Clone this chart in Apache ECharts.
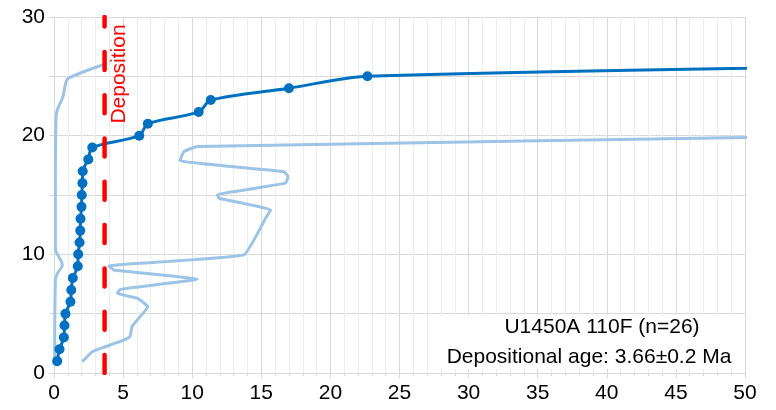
<!DOCTYPE html>
<html>
<head>
<meta charset="utf-8">
<script src="https://cdn.jsdelivr.net/npm/echarts@6/dist/echarts.min.js"></script>
<style>
html, body { margin: 0; padding: 0; background: #fff; }
#chart1 { width: 776px; height: 410px; }
</style>
</head>
<body>
<div id="chart1"></div>
<script>
// grain rank (y) and age in Ma (x) of the dark cumulative curve
var grainRank = [1, 2, 3, 4, 5, 6, 7, 8, 9, 10, 11, 12, 13, 14, 15, 16, 17, 18, 19, 20, 21, 22, 23, 24, 25, 26];
var grainAge = [0.23, 0.40, 0.71, 0.76, 0.83, 1.19, 1.25, 1.36, 1.72, 1.75, 1.85, 1.90, 1.92, 1.99, 2.01, 2.06, 2.08, 2.48, 2.77, 6.17, 6.79, 10.47, 11.34, 17.0, 22.68, 70];

// light curve on the left edge
var leftCurveX = [0.05, 0.1, 0.25, 0.6, 0.1, 0.1, 0.15, 0.25, 0.65, 0.85, 1.05, 3.6];
var leftCurveY = [1, 7.8, 8.4, 9.1, 10.5, 16, 21.5, 22.2, 23.3, 24.45, 24.85, 26];

// light zig-zag curve
var rightCurveX = [2.04, 2.77, 3.61, 4.94, 5.49, 5.66, 6.79, 6.02, 4.58, 4.82, 10.37, 4.33, 3.97, 13.74, 15.31, 15.68, 11.93, 11.82, 16.76, 16.93, 16.64, 9.11, 9.4, 10.37, 58];
var rightCurveY = [0.95, 1.8, 2.17, 2.72, 3.06, 3.96, 5.59, 6.3, 6.72, 7.06, 7.9, 8.68, 9.02, 9.95, 13.04, 13.74, 14.73, 15.01, 16.0, 16.55, 16.97, 17.9, 18.66, 19.08, 20];

var depositionAge = 3.66;
var yRange = [0, 30];

var sampleName = 'U1450A 110F (n=26)';
var ageText = 'Depositional age: 3.66±0.2 Ma';

function pairs(xs, ys) {
    var out = [];
    for (var i = 0; i < xs.length; i++) {
        out.push([xs[i], ys[i]]);
    }
    return out;
}

var font = '"Liberation Sans", Arial, sans-serif';
var gridGray = '#D9D9D9';

var chart = echarts.init(document.getElementById('chart1'));
var option = {
    animation: false,
    textStyle: { fontFamily: font },
    grid: { left: 54, right: 31, top: 17, bottom: 37 },
    xAxis: {
        type: 'value',
        min: 0,
        max: 50,
        interval: 5,
        axisLine: { show: true, lineStyle: { color: gridGray, width: 1 } },
        axisTick: { show: true, length: 5, lineStyle: { color: gridGray } },
        minorTick: { show: true, splitNumber: 5, length: 3, lineStyle: { color: gridGray } },
        axisLabel: { color: '#000', fontSize: 21, margin: 10, fontFamily: font },
        splitLine: { show: true, lineStyle: { color: gridGray, width: 1 } },
        minorSplitLine: { show: true, lineStyle: { color: '#EDEDED', width: 1 } }
    },
    yAxis: {
        type: 'value',
        min: yRange[0],
        max: yRange[1],
        interval: 10,
        axisLine: { show: true, lineStyle: { color: gridGray, width: 1 } },
        axisTick: { show: true, length: 5, lineStyle: { color: gridGray } },
        minorTick: { show: true, splitNumber: 2, length: 5, lineStyle: { color: gridGray } },
        axisLabel: { color: '#000', fontSize: 21, margin: 9, fontFamily: font },
        splitLine: { show: true, lineStyle: { color: gridGray, width: 1 } },
        minorSplitLine: { show: true, lineStyle: { color: gridGray, width: 1 } }
    },
    series: [
        {
            name: 'left',
            type: 'line',
            data: pairs(leftCurveX, leftCurveY),
            symbol: 'none',
            smooth: 0.3,
            lineStyle: { color: '#9DC3E6', width: 3 }
        },
        {
            name: 'right',
            type: 'line',
            data: pairs(rightCurveX, rightCurveY),
            symbol: 'none',
            smooth: 0.1,
            lineStyle: { color: '#9DC3E6', width: 3 }
        },
        {
            name: 'grains',
            type: 'line',
            data: pairs(grainAge, grainRank),
            symbol: 'circle',
            symbolSize: 10,
            smooth: 0.3,
            itemStyle: { color: '#0070C0' },
            lineStyle: { color: '#0070C0', width: 3 }
        },
        {
            name: 'deposition',
            type: 'line',
            data: [[depositionAge, yRange[0]], [depositionAge, yRange[1]]],
            symbol: 'none',
            lineStyle: { color: '#FF0000', width: 4.5, type: [18, 25.3], cap: 'round' }
        }
    ],
    graphic: {
        elements: [
            {
                type: 'text',
                x: 119,
                y: 74,
                z: 100,
                rotation: Math.PI / 2,
                style: {
                    text: 'Deposition',
                    fill: '#FF0000',
                    font: '21px ' + font,
                    textAlign: 'center',
                    textVerticalAlign: 'middle'
                }
            },
            // white text box behind the annotation
            {
                type: 'rect',
                z: 100,
                shape: { x: 438, y: 315, width: 305, height: 54 },
                style: { fill: '#ffffff', stroke: null }
            },
            {
                type: 'text',
                x: 602,
                y: 327,
                z: 101,
                style: {
                    text: sampleName,
                    fill: '#000',
                    font: '21px ' + font,
                    textAlign: 'center',
                    textVerticalAlign: 'middle'
                }
            },
            {
                type: 'text',
                x: 589,
                y: 357,
                z: 101,
                style: {
                    text: ageText,
                    fill: '#000',
                    font: '21px ' + font,
                    textAlign: 'center',
                    textVerticalAlign: 'middle'
                }
            }
        ]
    }
};
chart.setOption(option);
</script>
</body>
</html>
